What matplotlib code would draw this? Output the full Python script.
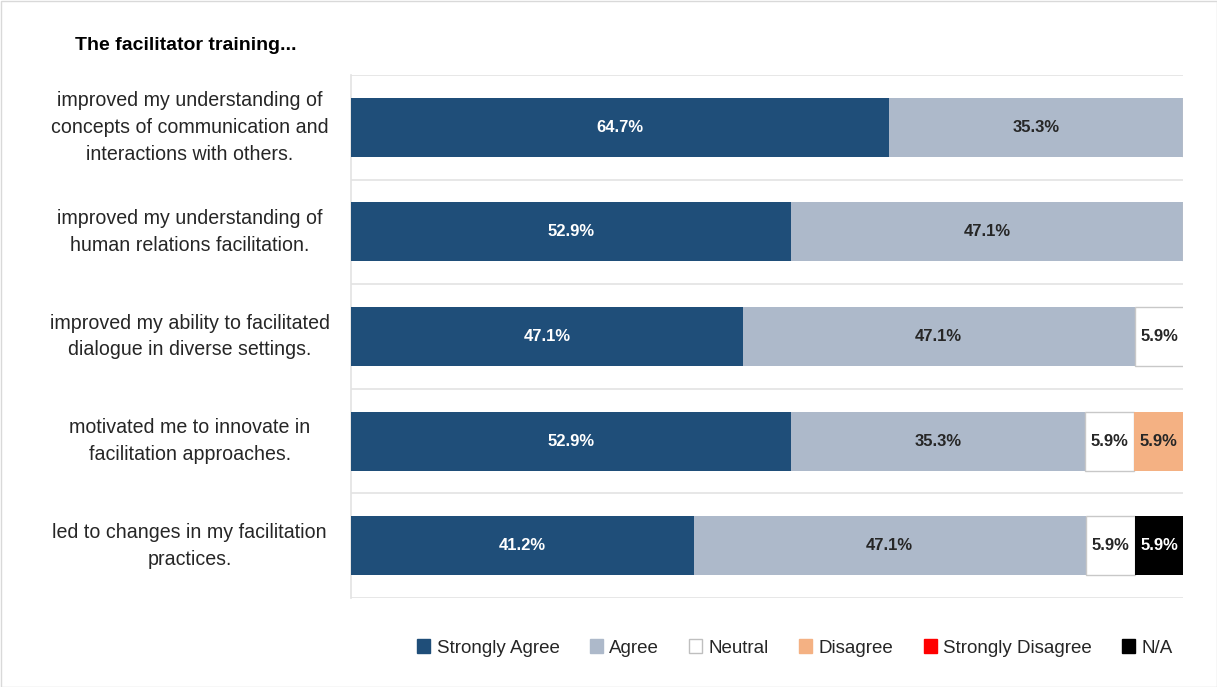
import matplotlib.pyplot as plt
from matplotlib.patches import Rectangle
import numpy as np

plt.rcParams['font.family'] = ['Liberation Sans', 'DejaVu Sans']

# Survey items (top to bottom) and response shares in percent
items = [
    "improved my understanding of\nconcepts of communication and\ninteractions with others.",
    "improved my understanding of\nhuman relations facilitation.",
    "improved my ability to facilitated\ndialogue in diverse settings.",
    "motivated me to innovate in\nfacilitation approaches.",
    "led to changes in my facilitation\npractices.",
]
responses = ["Strongly Agree", "Agree", "Neutral", "Disagree", "Strongly Disagree", "N/A"]
strongly_agree = [64.7, 52.9, 47.1, 52.9, 41.2]
agree = [35.3, 47.1, 47.1, 35.3, 47.1]
neutral = [0.0, 0.0, 5.9, 5.9, 5.9]
disagree = [0.0, 0.0, 0.0, 5.9, 0.0]
strongly_disagree = [0.0, 0.0, 0.0, 0.0, 0.0]
not_applicable = [0.0, 0.0, 0.0, 0.0, 5.9]

series = [strongly_agree, agree, neutral, disagree, strongly_disagree, not_applicable]
colors = ["#1F4E79", "#ADB9CA", "#FFFFFF", "#F4B183", "#FF0000", "#000000"]
edges = ["none", "none", "#C8C8C8", "none", "none", "none"]
label_colors = ["white", "#262626", "#262626", "#262626", "white", "white"]

fig = plt.figure(figsize=(12.17, 6.87), dpi=100)
ax = fig.add_axes([351 / 1217, 1 - 598 / 687, (1183 - 351) / 1217, (598 - 75) / 687])

y = np.arange(len(items))
left = np.zeros(len(items))
for vals, name, col, ec, tc in zip(series, responses, colors, edges, label_colors):
    vals = np.array(vals)
    bars = ax.barh(y, vals, left=left, height=0.565, color=col, edgecolor=ec,
                   linewidth=1.0, label=name, zorder=3)
    for b, v in zip(bars, vals):
        if v > 0:
            ax.text(b.get_x() + b.get_width() / 2, b.get_y() + b.get_height() / 2,
                    f"{v:.1f}%", ha="center", va="center", fontsize=12,
                    fontweight="bold", color=tc, zorder=4)
    left += vals

ax.set_xlim(0, 100)
ax.set_ylim(len(items) - 0.5, -0.5)
ax.set_xticks([])
ax.set_yticks([])
ax.set_yticks(np.arange(len(items) + 1) - 0.5, minor=True)
ax.grid(axis="y", which="minor", color="#E3E3E3", linewidth=1.2, zorder=0)
ax.tick_params(which="both", length=0)
for s in ["top", "right", "bottom"]:
    ax.spines[s].set_visible(False)
ax.spines["left"].set_color("#E3E3E3")
ax.spines["left"].set_linewidth(1.2)

# category labels, centred in the left margin
for yi, txt in zip(y, items):
    ax.text(-19.4, yi, txt, ha="center", va="center", fontsize=14.1,
            color="#262626", linespacing=1.52)

fig.text(75 / 1217, 1 - 45 / 687, "The facilitator training...", fontsize=14,
         fontweight="bold", ha="left", va="center", color="black")

handles = [Rectangle((0, 0), 1, 1, facecolor=c, edgecolor=("#BFBFBF" if c == "#FFFFFF" else c))
           for c in colors]
fig.legend(handles, responses, loc="center", bbox_to_anchor=(795 / 1217, 1 - 648 / 687),
           ncol=6, frameon=False, fontsize=13.5, handlelength=0.7, handleheight=0.7,
           handletextpad=0.35, columnspacing=1.6, labelcolor="#262626")

fig.patches.append(Rectangle((0.5 / 1217, 0.5 / 687), 1 - 1 / 1217, 1 - 1 / 687,
                             transform=fig.transFigure, fill=False,
                             edgecolor="#D9D9D9", linewidth=1.0))

fig.savefig("out.png", dpi=100)
